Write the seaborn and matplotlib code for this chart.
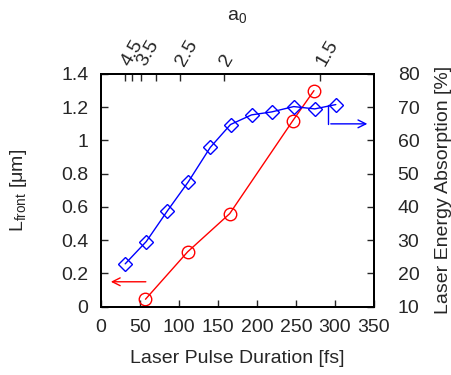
import numpy as np
import pandas as pd
import matplotlib
matplotlib.use('Agg')
import matplotlib.pyplot as plt
import seaborn as sns

# values
pulse_front = [57, 111, 165, 246, 273]
l_front = [0.045, 0.33, 0.56, 1.12, 1.30]

pulse_abs = [31, 58, 85, 112, 140, 166, 193, 219, 247, 274, 301]
absorption = [22.9, 29.6, 38.8, 47.6, 57.9, 64.8, 67.7, 68.6, 70.2, 69.5, 70.8]

# top axis: a0 ticks, a0^2 * tau = const
a0_ticks = [4.5, 4, 3.5, 3, 2.5, 2, 1.5]
a0_labels = ['4.5', '', '3.5', '', '2.5', '2', '1.5']
a0_const = 633.0

# arrows pointing at the axis each curve belongs to
red_arrow_x = [61, 9]
red_arrow_y = 0.15
blue_arrow_x = [291, 345]
blue_arrow_y = [70.8, 65.0]

sns.set_style('ticks')
plt.rcParams['font.family'] = ['Liberation Sans', 'DejaVu Sans']
plt.rcParams['mathtext.default'] = 'regular'
plt.rcParams['font.size'] = 14

fig = plt.figure(figsize=(4.52, 3.75), dpi=100)
ax = fig.add_axes([0.2235, 0.1821, 0.604, 0.6206])
ax2 = ax.twinx()

df1 = pd.DataFrame({'pulse': pulse_front, 'lfront': l_front})
df2 = pd.DataFrame({'pulse': pulse_abs, 'absorption': absorption})

sns.lineplot(data=df1, x='pulse', y='lfront', ax=ax, color='red', lw=1,
             marker='o', markersize=9, markerfacecolor='none',
             markeredgecolor='red', markeredgewidth=1)
sns.lineplot(data=df2, x='pulse', y='absorption', ax=ax2, color='blue', lw=1,
             marker='D', markersize=7, markerfacecolor='none',
             markeredgecolor='blue', markeredgewidth=1)

ax.set_xlim(0, 350)
ax.set_ylim(0, 1.4)
ax2.set_ylim(10, 80)
ax.set_xticks(np.arange(0, 351, 50))
ax.set_yticks(np.arange(0, 1.41, 0.2))
ax.set_yticklabels(['0', '0.2', '0.4', '0.6', '0.8', '1', '1.2', '1.4'])
ax2.set_yticks(np.arange(10, 81, 10))

ax.tick_params(axis='x', direction='in', length=5, width=1, pad=9, labelsize=14)
ax.tick_params(axis='y', direction='in', length=5, width=1, pad=9, labelsize=14)
ax2.tick_params(axis='y', direction='in', length=5, width=1, pad=17, labelsize=14)

top = ax.secondary_xaxis('top')
top.set_xticks([a0_const / a ** 2 for a in a0_ticks])
top.set_xticklabels(a0_labels, rotation=60, ha='left', va='center',
                    rotation_mode='anchor')
top.tick_params(direction='in', length=5, width=1, pad=7, labelsize=14)

ax.set_xlabel('Laser Pulse Duration [fs]', fontsize=14)
ax.set_ylabel(r'L$_{front}$ [μm]', fontsize=14)
ax2.set_ylabel('Laser Energy Absorption [%]', fontsize=14)
ax.xaxis.set_label_coords(0.5, -0.187)
ax.yaxis.set_label_coords(-0.265, 0.5)
ax2.yaxis.set_label_coords(1.222, 0.5)
fig.text(0.525, 0.955, r'a$_0$', fontsize=14, ha='center', va='center',
         color='.15')

for a in (ax, ax2):
    for s in a.spines.values():
        s.set_linewidth(1.4)
        s.set_color('black')
for s in top.spines.values():
    s.set_linewidth(1.4)

ax.annotate('', xy=(red_arrow_x[1], red_arrow_y), xytext=(red_arrow_x[0], red_arrow_y),
            arrowprops=dict(arrowstyle='->', color='red', lw=1, mutation_scale=14))
ax2.plot([blue_arrow_x[0], blue_arrow_x[0]], blue_arrow_y, color='blue', lw=1)
ax2.annotate('', xy=(blue_arrow_x[1], blue_arrow_y[1]),
             xytext=(blue_arrow_x[0], blue_arrow_y[1]),
             arrowprops=dict(arrowstyle='->', color='blue', lw=1, mutation_scale=14),
             annotation_clip=False)

fig.savefig('out.png', dpi=100)
